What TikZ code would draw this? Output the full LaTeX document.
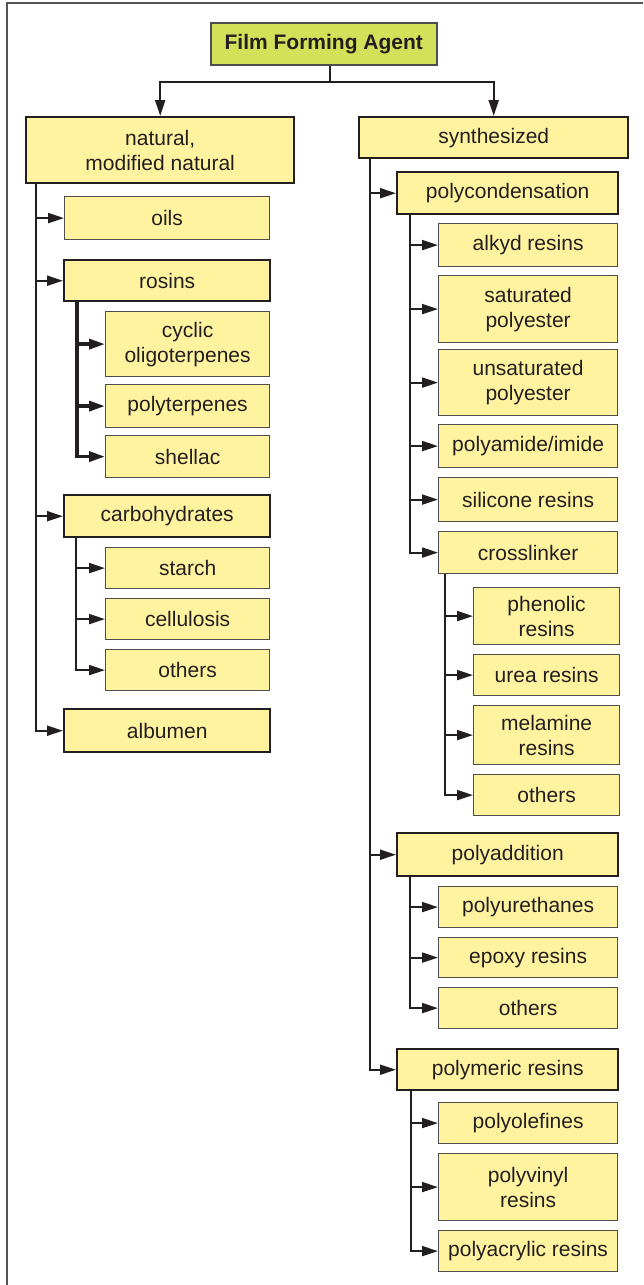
\documentclass[tikz,border=0pt]{standalone}
\usepackage{fontspec}
\setmainfont{Liberation Sans}
\usetikzlibrary{arrows.meta}
\definecolor{boxfill}{RGB}{255,243,160}
\definecolor{rootfill}{RGB}{211,224,90}
\definecolor{ink}{RGB}{35,31,32}
\definecolor{edgegray}{RGB}{80,78,76}
\definecolor{framegray}{RGB}{85,85,85}
% box from its top-left (x1,y1) to its bottom-right (x2,y2)
\newcommand\mkbox[7]{\node[#1,anchor=north west,minimum width={#5pt-#3pt},minimum height={#6pt-#4pt}] (#2) at (#3,#4) {#7};}
\tikzset{
  base/.style={draw, fill=boxfill, text=ink, inner sep=0pt, align=center,
               font=\fontsize{21}{25}\selectfont},
  leaf/.style={base, draw=edgegray, line width=1.2pt},
  group/.style={base, draw=ink, line width=2.4pt},
  rootbox/.style={base, fill=rootfill, draw=edgegray, line width=1.6pt,
                  font=\fontsize{21}{25}\selectfont\bfseries},
  conn/.style={draw=ink, line width=2pt},
  tip/.tip={Triangle[length=16pt,width=10pt]},
  arr/.style={conn, -tip},
}
\begin{document}
\begin{tikzpicture}[x=1pt,y=-1pt]
\useasboundingbox (0,0) rectangle (643,1285);
\draw[framegray, line width=2pt] (643,3) -- (7,3) -- (7,1285);

% top level
\mkbox{rootbox}{root}{210}{22}{436}{64}{Film Forming Agent}
\mkbox{group}{nat}{25}{116}{293}{182}{natural,\\modified natural}
\mkbox{group}{syn}{358}{116}{627}{157}{synthesized}

% natural branch
\mkbox{leaf}{oils}{64}{196}{269}{239}{oils}
\mkbox{group}{ros}{63}{259}{269}{300}{rosins}
\mkbox{leaf}{cyc}{105}{311}{269}{376}{cyclic\\oligoterpenes}
\mkbox{leaf}{pter}{105}{384}{269}{427}{polyterpenes}
\mkbox{leaf}{shel}{105}{435}{269}{477}{shellac}
\mkbox{group}{carb}{63}{494}{269}{536}{carbohydrates}
\mkbox{leaf}{star}{105}{547}{269}{588}{starch}
\mkbox{leaf}{cell}{105}{598}{269}{639}{cellulosis}
\mkbox{leaf}{othA}{105}{649}{269}{690}{others}
\mkbox{group}{alb}{63}{708}{269}{751}{albumen}

% synthesized branch
\mkbox{group}{pcon}{396}{171}{617}{213}{polycondensation}
\mkbox{leaf}{alk}{438}{223}{617}{266}{alkyd resins}
\mkbox{leaf}{sat}{438}{275}{617}{342}{saturated\\polyester}
\mkbox{leaf}{unsat}{438}{349}{617}{415}{unsaturated\\polyester}
\mkbox{leaf}{pami}{438}{424}{617}{467}{polyamide/imide}
\mkbox{leaf}{sil}{438}{477}{617}{521}{silicone resins}
\mkbox{leaf}{xl}{438}{531}{617}{573}{crosslinker}
\mkbox{leaf}{phen}{473}{587}{619}{644}{phenolic\\resins}
\mkbox{leaf}{urea}{473}{654}{619}{695}{urea resins}
\mkbox{leaf}{mel}{473}{705}{619}{764}{melamine\\resins}
\mkbox{leaf}{othB}{473}{774}{619}{815}{others}
\mkbox{group}{padd}{396}{832}{617}{875}{polyaddition}
\mkbox{leaf}{pur}{438}{886}{617}{927}{polyurethanes}
\mkbox{leaf}{epo}{438}{937}{617}{977}{epoxy resins}
\mkbox{leaf}{othC}{438}{987}{617}{1028}{others}
\mkbox{group}{pmer}{396}{1048}{617}{1089}{polymeric resins}
\mkbox{leaf}{pole}{438}{1102}{617}{1143}{polyolefines}
\mkbox{leaf}{pvin}{438}{1153}{617}{1220}{polyvinyl\\resins}
\mkbox{leaf}{pacr}{438}{1230}{617}{1271}{polyacrylic resins}

% split below the root
\coordinate (rs) at ([xshift=6pt]root.south);
\coordinate (rj) at ([yshift=-16pt]rs);
\draw[conn] (rs) -- (rj);
\draw[conn, tip-tip] (nat.north) |- (rj) -| (syn.north);

% trunk lines
\coordinate (lt) at ([xshift=11pt]nat.south west);
\draw[arr] (lt) |- (alb.west);
\foreach \c in {oils,ros,carb} \draw[arr] (lt |- \c.west) -- (\c.west);

\coordinate (rt) at ([xshift=12pt]syn.south west);
\draw[arr] (rt) |- (pmer.west);
\foreach \c in {pcon,padd} \draw[arr] (rt |- \c.west) -- (\c.west);

% sub-trunks
\coordinate (rost) at ([xshift=14pt]ros.south west);
\draw[arr, line width=3.5pt] (rost) |- (shel.west);
\foreach \c in {cyc,pter} \draw[arr, line width=3.5pt] (rost |- \c.west) -- (\c.west);

\coordinate (cart) at ([xshift=13pt]carb.south west);
\draw[arr] (cart) |- (othA.west);
\foreach \c in {star,cell} \draw[arr] (cart |- \c.west) -- (\c.west);

\coordinate (pct) at ([xshift=14pt]pcon.south west);
\draw[arr] (pct) |- (xl.west);
\foreach \c in {alk,sat,unsat,pami,sil} \draw[arr] (pct |- \c.west) -- (\c.west);

\coordinate (xlt) at ([xshift=7pt]xl.south west);
\draw[arr] (xlt) |- (othB.west);
\foreach \c in {phen,urea,mel} \draw[arr] (xlt |- \c.west) -- (\c.west);

\coordinate (pat) at ([xshift=14pt]padd.south west);
\draw[arr] (pat) |- (othC.west);
\foreach \c in {pur,epo} \draw[arr] (pat |- \c.west) -- (\c.west);

\coordinate (pmt) at ([xshift=15pt]pmer.south west);
\draw[arr] (pmt) |- (pacr.west);
\foreach \c in {pole,pvin} \draw[arr] (pmt |- \c.west) -- (\c.west);
\end{tikzpicture}
\end{document}
